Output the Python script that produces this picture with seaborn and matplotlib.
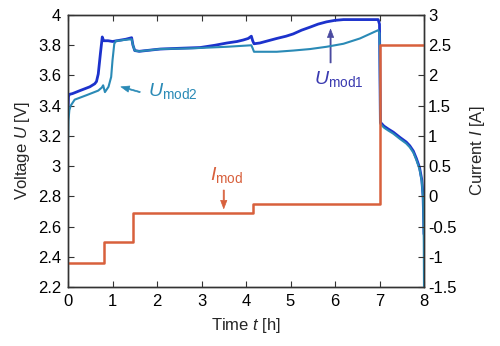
import matplotlib
matplotlib.use("Agg")
import matplotlib.pyplot as plt
import seaborn as sns
import pandas as pd

# ---- data ----
t_mod1 = [0.0, 0.01, 0.03, 0.1, 0.27, 0.49, 0.6, 0.64, 0.68, 0.73, 0.77, 0.8, 0.9, 1.0, 1.1, 1.2,
          1.3, 1.43, 1.46, 1.5, 1.6, 2.07, 2.5, 2.97, 3.3, 3.57, 3.8, 3.94, 4.05, 4.12, 4.15, 4.18,
          4.31, 4.5, 4.69, 4.9, 5.06, 5.25, 5.44, 5.62, 5.81, 6.0, 6.19, 6.56, 6.97, 7.0, 7.02,
          7.1, 7.2, 7.31, 7.46, 7.6, 7.68, 7.76, 7.83, 7.9, 7.95, 7.98, 8.0]
u_mod1 = [3.37, 3.46, 3.475, 3.48, 3.50, 3.525, 3.545, 3.56, 3.61, 3.75, 3.855, 3.83, 3.83, 3.825, 3.83, 3.835,
          3.84, 3.85, 3.80, 3.765, 3.76, 3.775, 3.78, 3.785, 3.80, 3.815, 3.825, 3.835, 3.845, 3.86, 3.83, 3.81,
          3.815, 3.83, 3.845, 3.86, 3.875, 3.90, 3.92, 3.94, 3.955, 3.965, 3.97, 3.97, 3.97, 3.94, 3.29,
          3.265, 3.245, 3.225, 3.19, 3.16, 3.135, 3.10, 3.05, 2.99, 2.91, 2.8, 2.55]

t_mod2 = [0.0, 0.01, 0.03, 0.06, 0.15, 0.42, 0.68, 0.76, 0.79, 0.83, 0.91, 0.97, 1.0, 1.04, 1.08,
          1.14, 1.25, 1.43, 1.46, 1.5, 1.6, 2.07, 2.8, 3.57, 4.12, 4.15, 4.18, 4.69, 5.06, 5.44,
          5.81, 6.19, 6.56, 6.97, 7.0, 7.02, 7.1, 7.2, 7.31, 7.46, 7.6, 7.68, 7.76, 7.83, 7.9,
          7.95, 7.98, 7.995, 8.0]
u_mod2 = [3.15, 3.3, 3.37, 3.40, 3.44, 3.47, 3.50, 3.52, 3.535, 3.49, 3.525, 3.59, 3.70, 3.81, 3.83,
          3.83, 3.835, 3.84, 3.80, 3.765, 3.76, 3.775, 3.78, 3.79, 3.80, 3.78, 3.757, 3.757, 3.765, 3.775,
          3.79, 3.81, 3.845, 3.90, 3.88, 3.28, 3.255, 3.235, 3.215, 3.18, 3.15, 3.125, 3.09, 3.04, 2.98,
          2.90, 2.78, 2.5, 2.2]

t_cur = [0.0, 0.81, 1.47, 4.16, 7.01, 8.0]
i_cur = [-1.1, -0.75, -0.28, -0.13, 2.5, 2.5]

v_ticks = [2.2, 2.4, 2.6, 2.8, 3.0, 3.2, 3.4, 3.6, 3.8, 4.0]
v_labels = ['2.2', '2.4', '2.6', '2.8', '3', '3.2', '3.4', '3.6', '3.8', '4']
i_ticks = [-1.5, -1.0, -0.5, 0.0, 0.5, 1.0, 1.5, 2.0, 2.5, 3.0]
i_labels = ['-1.5', '-1', '-0.5', '0', '0.5', '1', '1.5', '2', '2.5', '3']
t_ticks = [0, 1, 2, 3, 4, 5, 6, 7, 8]

c_mod1 = '#1c32cc'
c_mod2 = '#2a8ab6'
c_cur = '#d8603c'

# ---- style ----
sns.set_style('ticks')
plt.rcParams['font.family'] = ['Liberation Sans', 'DejaVu Sans']
plt.rcParams['mathtext.fontset'] = 'custom'
plt.rcParams['mathtext.rm'] = 'Liberation Sans'
plt.rcParams['mathtext.it'] = 'Liberation Sans:italic'
plt.rcParams['axes.edgecolor'] = '#333333'
plt.rcParams['axes.linewidth'] = 1.0

fig = plt.figure(figsize=(5.0, 3.46), dpi=100)
ax = fig.add_axes([0.136, 0.1705, 0.712, 0.786])
ax2 = ax.twinx()

df1 = pd.DataFrame({'t': t_mod1, 'u': u_mod1})
df2 = pd.DataFrame({'t': t_mod2, 'u': u_mod2})
dfi = pd.DataFrame({'t': t_cur, 'i': i_cur})

sns.lineplot(data=df1, x='t', y='u', ax=ax, color=c_mod1, lw=2.0, sort=False, estimator=None, zorder=3)
sns.lineplot(data=df2, x='t', y='u', ax=ax, color=c_mod2, lw=1.5, sort=False, estimator=None, zorder=4)
sns.lineplot(data=dfi, x='t', y='i', ax=ax2, color=c_cur, lw=1.8, sort=False, estimator=None,
             drawstyle='steps-post')

ax.set_xlim(0, 8)
ax.set_ylim(2.2, 4.0)
ax2.set_ylim(-1.5, 3.0)
ax.set_xticks(t_ticks)
ax.set_xticklabels([str(v) for v in t_ticks])
ax.set_yticks(v_ticks)
ax.set_yticklabels(v_labels)
ax2.set_yticks(i_ticks)
ax2.set_yticklabels(i_labels)

for a in (ax, ax2):
    for s in a.spines.values():
        s.set_visible(True)
        s.set_color('#333333')
ax.tick_params(axis='both', direction='in', length=4, labelsize=12, colors='#333333',
               labelcolor='black', top=True, pad=5)
ax2.tick_params(axis='y', direction='in', length=4, labelsize=12, colors='#333333',
                labelcolor='black', pad=3)

ax.set_xlabel('Time $t$ [h]', fontsize=12, labelpad=5)
ax.set_ylabel('Voltage $U$ [V]', fontsize=12, labelpad=4)
ax2.set_ylabel('Current $I$ [A]', fontsize=12, labelpad=8)

# annotations
arrow = 'simple,head_length=0.6,head_width=0.45,tail_width=0.08'
ax.annotate('', xy=(1.13, 3.53), xytext=(1.68, 3.485),
            arrowprops=dict(arrowstyle=arrow, color=c_mod2, lw=0.5))
ax.text(1.80, 3.50, r'$U_{\mathrm{mod2}}$', color=c_mod2, fontsize=14, va='center', ha='left')

ax.annotate('', xy=(5.9, 3.925), xytext=(5.9, 3.665),
            arrowprops=dict(arrowstyle=arrow, color='#4a4aa0', lw=0.5))
ax.text(5.52, 3.575, r'$U_{\mathrm{mod1}}$', color='#3a3ab0', fontsize=14, va='center', ha='left')

ax2.annotate('', xy=(3.5, -0.25), xytext=(3.5, 0.15),
             arrowprops=dict(arrowstyle=arrow, color=c_cur, lw=0.5))
ax2.text(3.2, 0.36, r'$I_{\mathrm{mod}}$', color=c_cur, fontsize=14, va='center', ha='left')

fig.savefig('out.png', dpi=100)
